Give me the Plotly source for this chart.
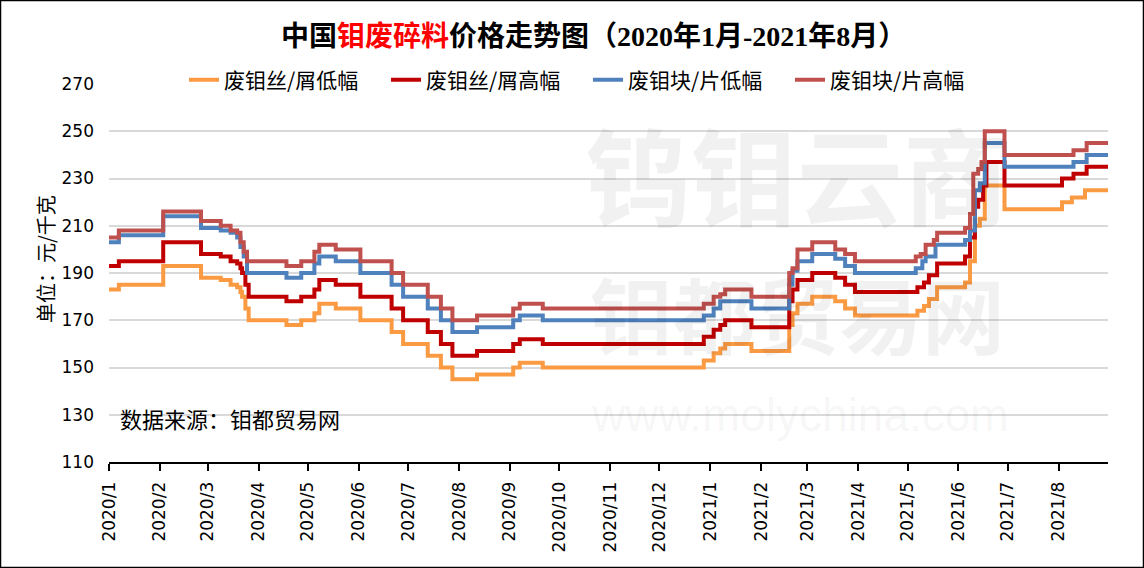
import plotly.graph_objects as go

# ---------------- data (change points of each step series) ----------------
wire_low_dates = ["2020-01-01","2020-01-07","2020-02-03","2020-02-26","2020-03-09","2020-03-15","2020-03-19",
    "2020-03-21","2020-03-22","2020-03-24","2020-03-26","2020-04-18","2020-04-27","2020-05-05","2020-05-08",
    "2020-05-18","2020-06-02","2020-06-21","2020-06-28","2020-07-13","2020-07-21","2020-07-28","2020-08-12",
    "2020-09-03","2020-09-07","2020-09-21","2020-12-28","2021-01-03","2021-01-07","2021-01-10","2021-01-26",
    "2021-02-18","2021-02-20","2021-02-23","2021-03-04","2021-03-18","2021-03-24","2021-03-30","2021-05-07",
    "2021-05-11","2021-05-14","2021-05-19","2021-06-05","2021-06-08","2021-06-11","2021-06-14","2021-06-17",
    "2021-06-29","2021-08-03","2021-08-09","2021-08-17","2021-08-31"]
wire_low = [183,185,193,188,187,185,184,182,180,175,170,168,170,173,177,175,170,165,160,155,150,145,147,
    150,152,150,153,156,158,160,157,168,173,177,180,178,175,172,174,176,179,184,186,195,210,213,227,
    217,220,222,225,225]

wire_high_dates = ["2020-01-01","2020-01-07","2020-02-03","2020-02-26","2020-03-09","2020-03-15","2020-03-19",
    "2020-03-21","2020-03-22","2020-03-24","2020-03-26","2020-04-18","2020-04-27","2020-05-05","2020-05-08",
    "2020-05-18","2020-06-02","2020-06-21","2020-06-28","2020-07-13","2020-07-21","2020-07-28","2020-08-12",
    "2020-09-03","2020-09-07","2020-09-21","2020-12-28","2021-01-03","2021-01-07","2021-01-10","2021-01-26",
    "2021-02-18","2021-02-20","2021-02-23","2021-03-04","2021-03-18","2021-03-24","2021-03-30","2021-05-07",
    "2021-05-11","2021-05-14","2021-05-19","2021-06-05","2021-06-08","2021-06-11","2021-06-13","2021-06-16",
    "2021-06-18","2021-06-29","2021-08-03","2021-08-10","2021-08-18","2021-08-31"]
wire_high = [193,195,203,198,197,195,194,192,190,185,180,178,180,183,187,185,180,175,170,165,160,155,157,
    160,162,160,163,166,168,170,167,178,183,187,190,188,185,182,184,186,189,194,197,205,218,221,227,
    237,227,230,232,235,235]

block_low_dates = ["2020-01-01","2020-01-07","2020-02-03","2020-02-26","2020-03-09","2020-03-15","2020-03-19",
    "2020-03-21","2020-03-23","2020-03-25","2020-04-18","2020-04-27","2020-05-05","2020-05-08","2020-05-18",
    "2020-06-02","2020-06-21","2020-06-28","2020-07-13","2020-07-21","2020-07-28","2020-08-12","2020-09-03",
    "2020-09-07","2020-09-21","2020-12-28","2021-01-03","2021-01-07","2021-01-26","2021-02-18","2021-02-20",
    "2021-02-23","2021-03-04","2021-03-18","2021-03-24","2021-03-30","2021-05-06","2021-05-10","2021-05-12",
    "2021-05-18","2021-06-05","2021-06-08","2021-06-11","2021-06-14","2021-06-17","2021-06-29","2021-08-10",
    "2021-08-18","2021-08-31"]
block_low = [203,206,214,209,208,207,205,201,197,190,188,190,194,197,195,190,185,180,175,170,165,167,170,
    172,170,172,175,178,175,185,191,195,198,196,193,190,192,195,197,202,204,208,225,228,245,235,237,
    240,240]

block_high_dates = ["2020-01-01","2020-01-07","2020-02-03","2020-02-26","2020-03-09","2020-03-15","2020-03-19",
    "2020-03-21","2020-03-23","2020-03-25","2020-04-18","2020-04-27","2020-05-05","2020-05-08","2020-05-18",
    "2020-06-02","2020-06-21","2020-06-28","2020-07-13","2020-07-21","2020-07-28","2020-08-12","2020-09-03",
    "2020-09-07","2020-09-21","2020-12-28","2021-01-03","2021-01-07","2021-01-10","2021-01-26","2021-02-18",
    "2021-02-20","2021-02-23","2021-03-04","2021-03-18","2021-03-24","2021-03-30","2021-05-06","2021-05-09",
    "2021-05-12","2021-05-17","2021-05-19","2021-06-05","2021-06-08","2021-06-10","2021-06-13","2021-06-15",
    "2021-06-17","2021-06-29","2021-08-10","2021-08-18","2021-08-31"]
block_high = [205,208,216,212,210,208,207,203,199,195,193,195,199,202,200,195,190,185,180,175,170,172,175,
    177,175,177,180,181,183,180,190,192,200,203,200,198,195,197,198,202,204,207,209,215,232,234,237,
    250,240,242,245,245]

series_names = ["废钼丝/屑低幅", "废钼丝/屑高幅", "废钼块/片低幅", "废钼块/片高幅"]
series_colors = ["#FA9A43", "#C00000", "#4F81BD", "#C0504D"]

y_ticks = [110, 130, 150, 170, 190, 210, 230, 250, 270]
x_range = ["2020-01-01", "2021-08-31"]

# ---------------- figure ----------------
W, H = 1144, 568
ML, MR, MT, MB = 109, 36, 84, 106
PW, PH = W - ML - MR, H - MT - MB

def px_x(px):
    return (px - ML) / PW

def px_y(py):
    return (H - MB - py) / PH

fig = go.Figure()
for name, d, v, c in zip(series_names,
                         [wire_low_dates, wire_high_dates, block_low_dates, block_high_dates],
                         [wire_low, wire_high, block_low, block_high],
                         series_colors):
    fig.add_trace(go.Scatter(x=d, y=v, name=name, mode="lines",
                             line=dict(color=c, width=4, shape="hv")))

cjk = "Noto Sans CJK SC"
wm = "rgba(0,0,0,0.055)"

annotations = [
    # watermark texts
    dict(text="<b>钨钼云商</b>", x=px_x(797), y=px_y(172), font=dict(family=cjk, size=106, color=wm)),
    dict(text="<b>钼都贸易网</b>", x=px_x(797), y=px_y(312), font=dict(family=cjk, size=83, color=wm)),
    dict(text="www.molychina.com", x=px_x(800), y=px_y(415),
         font=dict(family="Liberation Sans Narrow, Liberation Sans", size=46, color=wm)),
    # title
    dict(text="<b>中国<span style='color:#FF0000'>钼废碎料</span>价格走势图（2020年1月-2021年8月）</b>",
         x=px_x(593), y=px_y(37), font=dict(family="Liberation Serif, " + cjk, size=28, color="black")),
    # y axis title
    dict(text="单位：元/千克", x=px_x(45), y=px_y(259), textangle=-90,
         font=dict(family=cjk, size=20, color="black")),
    # source
    dict(text="数据来源：钼都贸易网", x=px_x(118), y=px_y(418), xanchor="left",
         font=dict(family=cjk, size=22, color="black")),
]
for a in annotations:
    a.setdefault("xanchor", "center")
    a.setdefault("yanchor", "middle")
    a.update(xref="paper", yref="paper", showarrow=False)

fig.update_layout(
    width=W, height=H, autosize=False,
    margin=dict(l=ML, r=MR, t=MT, b=MB, autoexpand=False),
    paper_bgcolor="white", plot_bgcolor="white",
    font=dict(family="DejaVu Sans", size=17, color="black"),
    showlegend=True,
    legend=dict(orientation="h", x=px_x(588), xanchor="center", y=px_y(80), yanchor="middle",
                font=dict(family=cjk, size=21, color="black"),
                entrywidth=157, entrywidthmode="pixels", bgcolor="rgba(0,0,0,0)",
                traceorder="normal"),
    xaxis=dict(type="date", range=x_range, tick0="2020-01-01", dtick="M1", tickformat="%Y/%-m",
               tickangle=-90, ticks="outside", ticklen=7, tickwidth=2, tickcolor="black",
               showline=True, linecolor="black", linewidth=2, showgrid=False, zeroline=False,
               tickfont=dict(family="DejaVu Sans", size=17, color="black"), ticklabelstandoff=4),
    yaxis=dict(range=[110, 270], tickmode="array", tickvals=y_ticks, showgrid=True,
               gridcolor="#D9D9D9", gridwidth=2, showline=False, ticks="", zeroline=False,
               tickfont=dict(family="DejaVu Sans", size=17, color="black"), ticklabelstandoff=14),
    annotations=annotations,
    shapes=[dict(type="rect", xref="paper", yref="paper",
                 x0=-ML / PW + 0.0005, x1=1 + MR / PW - 0.0005,
                 y0=-MB / PH + 0.001, y1=1 + MT / PH - 0.001,
                 line=dict(color="black", width=1.5), layer="above")],
)

fig.write_html("out.html", config={"displayModeBar": False},
               post_script="document.body.style.margin='0';document.body.style.overflow='hidden';")
